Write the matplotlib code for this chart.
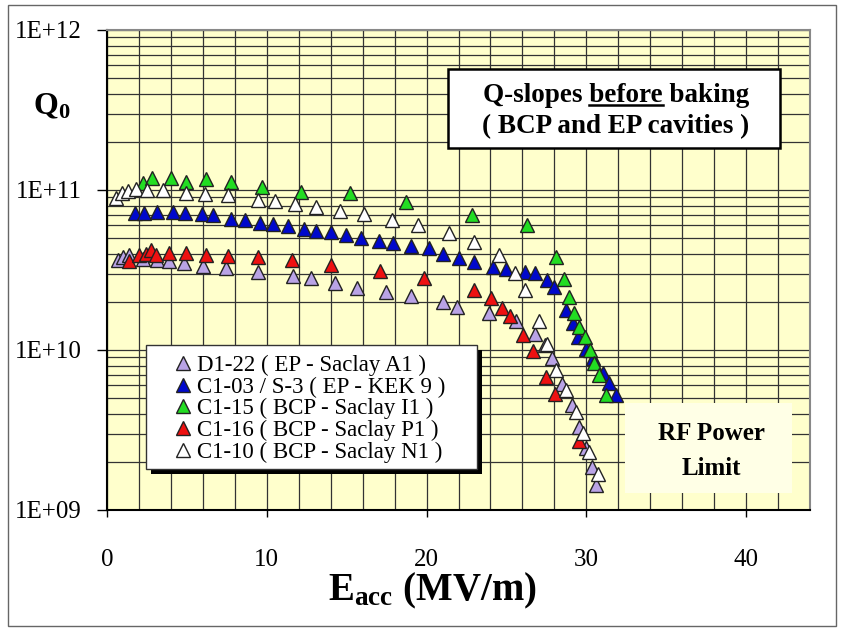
import numpy as np
import matplotlib
matplotlib.use('Agg')
import matplotlib.pyplot as plt
from matplotlib.patches import Rectangle
from matplotlib.lines import Line2D
from matplotlib.ticker import LogLocator, MultipleLocator, FuncFormatter, NullFormatter

plt.rcParams['font.family'] = 'Liberation Serif'
plt.rcParams['mathtext.fontset'] = 'custom'
plt.rcParams['mathtext.rm'] = 'Liberation Serif'
plt.rcParams['mathtext.bf'] = 'Liberation Serif:bold'
plt.rcParams['mathtext.it'] = 'Liberation Serif:italic'

# Eacc (MV/m) and Q0 (in units of 1e9)
d122_x = [0.71, 1.02, 1.39, 2.23, 3.11, 3.89, 4.81, 6.02, 7.47, 9.46, 11.64, 12.75, 14.25, 15.67,
          17.44, 19.04, 21.03, 21.89, 23.89, 25.63, 26.78, 27.44, 27.84, 28.48, 29.11, 29.56,
          30.0, 30.36, 30.61]
d122_q = [36.5, 37.9, 39.2, 37.1, 36.4, 36.0, 34.8, 33.7, 32.4, 30.9, 29.0, 28.1, 26.1, 24.5,
          23.1, 21.8, 20.0, 18.6, 17.1, 15.2, 12.5, 10.7, 8.87, 6.13, 4.53, 3.30, 2.43, 1.86, 1.43]

c103_x = [1.75, 2.31, 3.14, 4.14, 4.88, 5.92, 6.64, 7.79, 8.63, 9.56, 10.4, 11.33, 12.31, 13.1,
          14.0, 14.94, 15.92, 17.02, 17.89, 19.04, 20.14, 21.03, 22.0, 23.0, 24.14, 24.98, 26.17,
          26.81, 27.52, 28.0, 28.73, 29.14, 29.46, 29.98, 30.39, 31.02, 31.44, 31.86]
c103_q = [72.1, 72.1, 73.1, 73.1, 72.1, 70.5, 69.8, 65.6, 64.9, 61.9, 61.1, 59.6, 56.8, 55.4,
          54.9, 52.3, 50.3, 48.0, 46.9, 44.7, 43.2, 39.7, 37.4, 35.6, 32.9, 32.1, 30.6, 30.1,
          27.4, 24.7, 17.8, 14.7, 12.1, 10.2, 8.87, 7.15, 6.19, 5.23]

c115_x = [2.23, 2.79, 3.98, 4.94, 6.19, 7.79, 9.67, 12.17, 15.23, 18.73, 22.83, 26.27, 28.1,
          28.58, 28.94, 29.25, 29.56, 29.94, 30.23, 30.5, 30.81, 31.23]
c115_q = [111, 118, 118, 113, 117, 113, 105, 97.6, 95.3, 84.6, 69.8, 60.4, 38.3, 27.7, 21.5,
          17.0, 14.0, 12.1, 10.0, 8.26, 6.98, 5.23]

c116_x = [1.39, 2.02, 2.44, 2.77, 3.09, 3.89, 4.94, 6.19, 7.58, 9.46, 11.56, 13.99, 17.06, 19.83,
          23.0, 24.04, 24.73, 25.22, 26.06, 26.64, 27.47, 28.03, 29.52]
c116_q = [36.2, 39.2, 39.7, 41.9, 39.4, 40.4, 40.2, 39.2, 38.5, 37.9, 36.5, 34.0, 31.3, 28.3,
          23.7, 21.1, 18.3, 16.3, 12.4, 9.9, 6.81, 5.31, 2.70]

c110_x = [0.56, 0.96, 1.33, 1.79, 2.48, 3.52, 4.94, 6.13, 7.58, 9.44, 10.53, 11.78, 13.06, 14.56,
          16.06, 17.81, 19.47, 21.38, 23.0, 24.51, 25.56, 26.19, 27.02, 27.56, 28.13, 28.71,
          29.34, 29.77, 30.19, 30.75]
c110_q = [88.8, 95.3, 99, 101, 100, 100, 96.2, 94.8, 92.4, 86.9, 85.7, 81.5, 78.0, 73.9, 70.8,
          64.9, 60.8, 53.5, 47.0, 39.2, 30.1, 23.7, 15.2, 10.9, 7.5, 5.62, 4.11, 3.05, 2.31, 1.69]

labels = ['D1-22 ( EP - Saclay A1 )', 'C1-03 / S-3 ( EP - KEK 9 )', 'C1-15 ( BCP - Saclay I1 )',
          'C1-16 ( BCP - Saclay P1 )', 'C1-10 ( BCP - Saclay N1 )']
colors = ['#B9A3E6', '#0008CC', '#22DD22', '#EE1111', '#FFFFFF']

W, H = 842, 632
AX_L, AX_R, AX_T, AX_B = 107, 810, 30, 510
aw, ah = AX_R - AX_L, AX_B - AX_T

fig = plt.figure(figsize=(W / 100, H / 100), dpi=100)
ax = fig.add_axes([AX_L / W, 1 - AX_B / H, aw / W, ah / H])
ax.set_facecolor('#FFFFCC')


def px(x, y):
    return ((x - AX_L) / aw, (AX_B - y) / ah)


def box(x0, y0, x1, y1, **kw):
    return Rectangle(px(x0, y1), (x1 - x0) / aw, (y1 - y0) / ah,
                     transform=ax.transAxes, clip_on=False, **kw)


series = [(d122_x, d122_q), (c103_x, c103_q), (c115_x, c115_q), (c116_x, c116_q), (c110_x, c110_q)]
for (xs, qs), lab, col in zip(series, labels, colors):
    ax.plot(xs, np.array(qs) * 1e9, ls='none', marker='^', ms=10, mfc=col,
            mec='#222222', mew=1.0, label=lab, zorder=3)

ax.set_yscale('log')
ax.set_xlim(0, 44)
ax.set_ylim(1e9, 1e12)
ax.xaxis.set_major_locator(MultipleLocator(10))
ax.xaxis.set_minor_locator(MultipleLocator(2))
ax.yaxis.set_major_locator(LogLocator(base=10))
ax.yaxis.set_minor_locator(LogLocator(base=10, subs=np.arange(2, 10)))
ax.yaxis.set_minor_formatter(NullFormatter())
ax.yaxis.set_major_formatter(FuncFormatter(lambda v, p: '1E+%02d' % round(np.log10(v))))
ax.grid(which='both', color='#333333', lw=0.9, zorder=1)
ax.set_axisbelow(True)
ax.tick_params(which='minor', length=0)
ax.tick_params(axis='x', which='major', direction='out', length=5, width=1, pad=23, labelsize=18)
ax.tick_params(axis='y', which='major', direction='out', length=7, width=1, pad=11, labelsize=18)
for s in ['left', 'bottom']:
    ax.spines[s].set_color('black')
    ax.spines[s].set_linewidth(1.5)
for s in ['top', 'right']:
    ax.spines[s].set_color('#888888')
    ax.spines[s].set_linewidth(1.5)

# axis titles
fig.text(432 / W, 1 - 591 / H, r'$\mathbf{E}_{\mathbf{acc}}$ (MV/m)', fontsize=28,
         fontweight='bold', ha='center', va='center')
fig.text(52 / W, 1 - 107 / H, r'$\mathbf{Q}_{\mathbf{0}}$', fontsize=23, ha='center', va='center')

# title box
ax.add_patch(box(448, 69, 780, 148, facecolor='white', edgecolor='black', lw=1.8, zorder=4))
title1 = ax.text(*px(616, 102), 'Q-slopes before baking', transform=ax.transAxes, fontsize=19.5,
                 fontweight='bold', ha='center', va='baseline', zorder=5)
ax.text(*px(616, 133), '( BCP and EP cavities )', transform=ax.transAxes, fontsize=19.5,
        fontweight='bold', ha='center', va='baseline', zorder=5)

# RF power limit box
ax.add_patch(box(625, 403, 792, 493, facecolor='#FFFFE6', edgecolor='none', zorder=4))
ax.text(*px(711, 440), 'RF Power', transform=ax.transAxes, fontsize=18, fontweight='bold',
        ha='center', va='baseline', zorder=5)
ax.text(*px(711, 475), 'Limit', transform=ax.transAxes, fontsize=18, fontweight='bold',
        ha='center', va='baseline', zorder=5)

# legend with shadowed frame
ax.add_patch(box(151, 350, 482, 474, facecolor='black', edgecolor='none', zorder=4.4))
ax.add_patch(box(146, 345, 477, 469, facecolor='white', edgecolor='#333333', lw=1, zorder=4.5))
leg = ax.legend(loc='upper left', bbox_to_anchor=px(171.5, 355), frameon=False, borderpad=0,
                borderaxespad=0, handlelength=1.0, handletextpad=0.1, labelspacing=0.02,
                prop={'family': 'Liberation Serif', 'size': 16.5}, numpoints=1)
leg.set_zorder(5)

# underline "before"
fig.canvas.draw()
r = fig.canvas.get_renderer()


def width(s):
    t = ax.text(0, 0, s, fontsize=19.5, fontweight='bold', transform=ax.transAxes)
    w = t.get_window_extent(r).width
    t.remove()
    return w


bb = title1.get_window_extent(r)
x0 = bb.x0 + width('Q-slopes x') - width('x')
x1 = x0 + width('before')
yl = H - 105
fig.add_artist(Line2D([x0 / W, x1 / W], [yl / H, yl / H], transform=fig.transFigure,
                      color='black', lw=1.8))

# outer frame
fig.add_artist(Rectangle((8 / W, 1 - 626 / H), (836 - 8) / W, (626 - 5) / H,
                         transform=fig.transFigure, fill=False, edgecolor='#666666', lw=1))

fig.savefig('out.png', dpi=100)
